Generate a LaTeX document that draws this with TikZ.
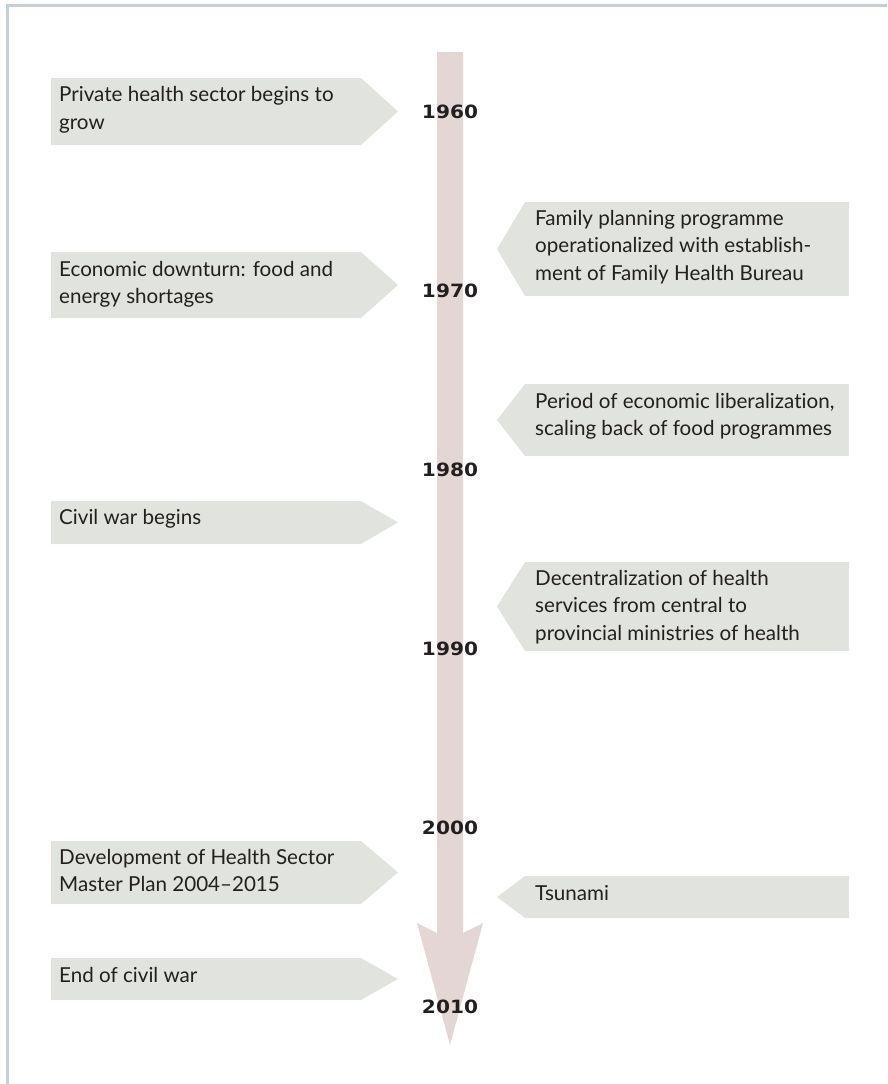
\documentclass[tikz,border=0pt]{standalone}
\usepackage{fontspec}
\setmainfont{Lato}[Ligatures={NoCommon}]
\newfontfamily\yearfont{DejaVu Sans Bold}[FakeStretch=1.1]
\definecolor{boxfill}{HTML}{E1E4DE}
\definecolor{shaftfill}{HTML}{E3D6D4}
\definecolor{framecol}{HTML}{C5CEDF}
\definecolor{inkcol}{HTML}{231F20}
\newcommand\leftev[2]{\fill[evbox] (51,#1) -- (361,#1) -- (398,{(#1+#2)/2}) -- (361,#2) -- (51,#2) -- cycle;}
\newcommand\rightev[2]{\fill[evbox] (849,#1) -- (525,#1) -- (497,{(#1+#2)/2}) -- (525,#2) -- (849,#2) -- cycle;}
\newcommand\evlines[1]{\begin{tabular}[t]{@{}l@{}}#1\end{tabular}}
\begin{document}
\begin{tikzpicture}[x=1pt,y=-1pt,
  evbox/.style={fill=boxfill},
  evtext/.style={anchor=base west,inner sep=0pt,text=inkcol,font=\fontsize{20.6pt}{27.5pt}\selectfont},
  yearlab/.style={inner sep=0pt,text=inkcol,font=\yearfont\fontsize{18.3pt}{20pt}\selectfont},
  frameline/.style={draw=framecol,line width=3pt},
  arrowbody/.style={fill=shaftfill}]
\useasboundingbox (0,0) rectangle (887,1084);
% frame
\draw[frameline] (7.8,1084) -- (7.8,5.7) -- (887,5.7);
% time arrow
\fill[arrowbody] (437,52) -- (463,52) -- (463,933) -- (483,923) -- (450,1045) -- (417,923) -- (437,933) -- cycle;
% event boxes
\leftev{78}{145}
\leftev{252}{318}
\leftev{501}{544}
\leftev{841}{904}
\leftev{958}{1000}
\rightev{202}{296}
\rightev{384}{456}
\rightev{562}{651}
\rightev{876}{918}
% texts
\node[evtext] (e1) at (59,101.5) {\evlines{Private health sector begins to\\grow}};
\node[evtext] (e2) at (59,276) {\evlines{Economic downturn: food and\\energy shortages}};
\node[evtext] (e3) at (59,524) {\evlines{Civil war begins}};
\node[evtext] (e4) at (59,864) {\evlines{Development of Health Sector\\Master Plan 2004--2015}};
\node[evtext] (e5) at (59,982) {\evlines{End of civil war}};
\node[evtext] (e6) at (535,225) {\evlines{Family planning programme\\operationalized with establish-\\ment of Family Health Bureau}};
\node[evtext] (e7) at (535,408) {\evlines{Period of economic liberalization,\\scaling back of food programmes}};
\node[evtext] (e8) at (535,585) {\evlines{Decentralization of health\\services from central to\\provincial ministries of health}};
\node[evtext] (e9) at (535,900) {\evlines{Tsunami}};
% years
\node[yearlab] (y1960) at (450,112) {1960};
\node[yearlab] (y1970) at (450,291) {1970};
\node[yearlab] (y1980) at (450,470) {1980};
\node[yearlab] (y1990) at (450,649) {1990};
\node[yearlab] (y2000) at (450,828) {2000};
\node[yearlab] (y2010) at (450,1007) {2010};
\end{tikzpicture}
\end{document}
